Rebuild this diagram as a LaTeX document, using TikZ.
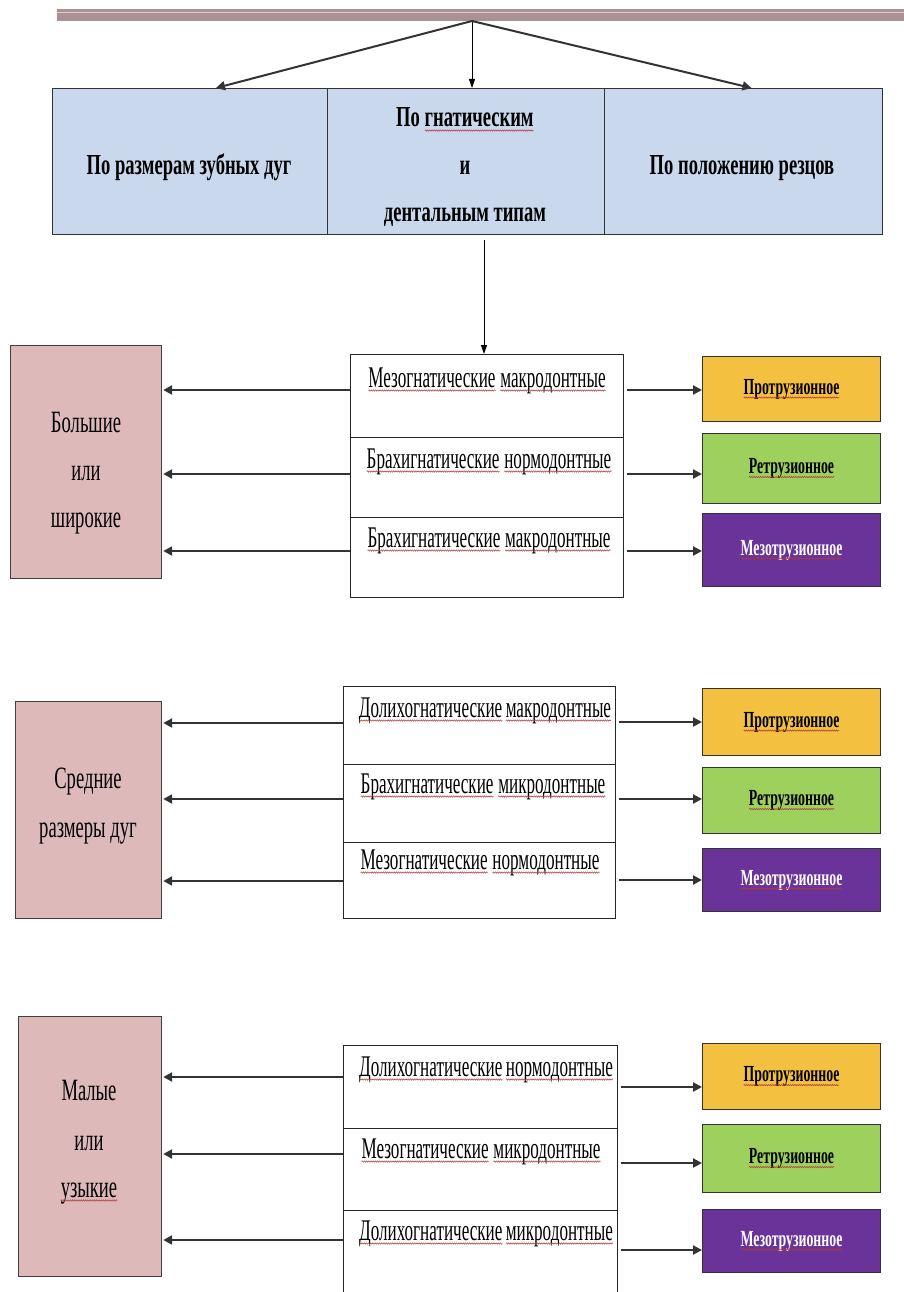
\documentclass[tikz,border=0pt]{standalone}
\usepackage{fontspec}
\setmainfont{Liberation Serif}
\newfontfamily\cnd[FakeStretch=0.6]{Liberation Serif}
\newfontfamily\cndM[FakeStretch=0.57]{Liberation Serif}
\newfontfamily\cndT[FakeStretch=0.64]{Liberation Serif}
\usetikzlibrary{arrows.meta,decorations.pathmorphing,calc}

\definecolor{hdr}{HTML}{A99294}
\definecolor{hdrl}{HTML}{D9CBCC}
\definecolor{tblue}{HTML}{C9D8EC}
\definecolor{pinkb}{HTML}{DDB9B9}
\definecolor{orangeb}{HTML}{F3C13F}
\definecolor{greenb}{HTML}{9ED05E}
\definecolor{purpleb}{HTML}{6A3399}
\definecolor{squig}{HTML}{B03A3A}

\newcommand\wv[1]{\tikz[baseline=(w.base)]{\node[inner sep=0pt,outer sep=0pt,minimum width=0pt,minimum height=0pt,draw=none,fill=none,anchor=base](w) at (0,0){#1};\draw[squig,line width=0.5pt,decorate,decoration={snake,amplitude=0.7pt,segment length=2.2pt}]([yshift=-3.5pt]w.base west)--([yshift=-3.5pt]w.base east);}}

\begin{document}
\begin{tikzpicture}[x=1pt,y=-1pt,
  tcell/.style={draw=black!80,line width=1pt,fill=tblue,inner sep=0pt,anchor=north west,minimum height=146pt},
  pbox/.style={draw=black!75,line width=1.2pt,fill=pinkb,inner sep=0pt,anchor=north west},
  mrow/.style={draw=black!85,line width=1pt,fill=white,inner sep=0pt,anchor=north west},
  cbox/.style={draw=black!80,line width=1pt,inner sep=0pt,anchor=north west,minimum width=178pt,font=\cnd\bfseries\fontsize{23}{27}\selectfont},
  ptxt/.style={anchor=base,inner sep=0pt,font=\cnd\fontsize{31}{36}\selectfont},
  mtxt/.style={anchor=base,inner sep=0pt,font=\cndM\fontsize{30}{36}\selectfont},
  ttxt/.style={anchor=base,inner sep=0pt,font=\cndT\bfseries\fontsize{29}{34}\selectfont},
  arr/.style={draw=black!80,line width=2.2pt,-{Triangle[length=9pt,width=9pt]}},
  arrthin/.style={draw=black,line width=0.9pt,-{Triangle[length=9pt,width=6pt]}}]

\clip (0,0) rectangle (904,1292);
\fill[white] (0,0) rectangle (904,1292);

% header bar
\node[anchor=north west,fill=hdr,minimum width=847pt,minimum height=12pt,inner sep=0pt] (bar) at (57,9) {};
\draw[hdrl,line width=1.5pt] (bar.north west)++(0,3.5) -- ++(847,0);
\coordinate (src) at (472,21);

% top table
\node[tcell,minimum width=275pt] (t1) at (52,88) {};
\node[tcell,minimum width=277pt] (t2) at (327,88) {};
\node[tcell,minimum width=278pt] (t3) at (604,88) {};
\node[ttxt] (t1a) at (189,175) {По размерам зубных дуг};
\node[ttxt] (t2a) at (465,127) {По \wv{гнатическим}};
\node[ttxt] (t2b) at (465,175) {и};
\node[ttxt] (t2c) at (465,222) {дентальным типам};
\node[ttxt] (t3a) at (742,175) {По положению резцов};

\draw[arr,line width=2pt] (src) -- ($(t1.north)+(26,0)$);
\draw[arrthin] (src) -- (src |- t2.north);
\draw[arr,line width=2pt] (src) -- ($(t3.north)+(8,0)$);
\coordinate (v0) at (484,240);
\draw[arrthin] (v0) -- (v0 |- 0,354);

% ---------- group 1
\node[pbox,minimum width=151pt,minimum height=233pt] (p1) at (10,345) {};
\node[ptxt] (p1a) at (86,432) {Большие};
\node[ptxt] (p1b) at (86,480) {или};
\node[ptxt] (p1c) at (86,527) {широкие};

\node[mrow,minimum width=273pt,minimum height=83pt] (m11) at (350,354) {};
\node[mrow,minimum width=273pt,minimum height=80pt] (m12) at (350,437) {};
\node[mrow,minimum width=273pt,minimum height=80pt] (m13) at (350,517) {};
\node[mtxt] (m11t) at (487,387) {\wv{Мезогнатические} \wv{макродонтные}};
\node[mtxt] (m12t) at (489,468) {\wv{Брахигнатические} \wv{нормодонтные}};
\node[mtxt] (m13t) at (489,547) {\wv{Брахигнатические} \wv{макродонтные}};

\node[cbox,fill=orangeb,minimum height=65pt] (c11) at (702,356) {\wv{Протрузионное}};
\node[cbox,fill=greenb,minimum height=70pt] (c12) at (702,433) {\wv{Ретрузионное}};
\node[cbox,fill=purpleb,text=white,minimum height=73pt] (c13) at (702,513) {\wv{Мезотрузионное}};

\coordinate (y11) at (0,390); \coordinate (y12) at (0,474); \coordinate (y13) at (0,551);
\foreach \r/\y in {m11/y11,m12/y12,m13/y13}{
  \draw[arr] (\r.west |- \y) -- ([xshift=1pt]p1.east |- \y);}
\draw[arr] ([xshift=3pt]m11.east |- y11) -- (c11.west |- y11);
\draw[arr] ([xshift=3pt]m12.east |- y12) -- (c12.west |- y12);
\draw[arr] ([xshift=3pt]m13.east |- y13) -- (c13.west |- y13);

% ---------- group 2
\node[pbox,minimum width=146pt,minimum height=217pt] (p2) at (15,701) {};
\node[ptxt] (p2a) at (88,788) {Средние};
\node[ptxt] (p2b) at (88,837) {размеры дуг};

\node[mrow,minimum width=272pt,minimum height=78pt] (m21) at (343,686) {};
\node[mrow,minimum width=272pt,minimum height=78pt] (m22) at (343,764) {};
\node[mrow,minimum width=272pt,minimum height=76pt] (m23) at (343,842) {};
\node[mtxt] (m21t) at (485,717) {\wv{Долихогнатические}\hspace{3pt}\wv{макродонтные}};
\node[mtxt] (m22t) at (483,793) {\wv{Брахигнатические} \wv{микродонтные}};
\node[mtxt] (m23t) at (480,869) {\wv{Мезогнатические} \wv{нормодонтные}};

\node[cbox,fill=orangeb,minimum height=67pt] (c21) at (702,688) {\wv{Протрузионное}};
\node[cbox,fill=greenb,minimum height=66pt] (c22) at (702,767) {\wv{Ретрузионное}};
\node[cbox,fill=purpleb,text=white,minimum height=63pt] (c23) at (702,848) {\wv{Мезотрузионное}};

\coordinate (l21) at (0,723); \coordinate (l22) at (0,799); \coordinate (l23) at (0,881);
\coordinate (r21) at (0,722); \coordinate (r22) at (0,799); \coordinate (r23) at (0,880);
\draw[arr] (m21.west |- l21) -- ([xshift=1pt]p2.east |- l21);
\draw[arr] (m22.west |- l22) -- ([xshift=1pt]p2.east |- l22);
\draw[arr] (m23.west |- l23) -- ([xshift=1pt]p2.east |- l23);
\draw[arr] ([xshift=3pt]m21.east |- r21) -- (c21.west |- r21);
\draw[arr] ([xshift=3pt]m22.east |- r22) -- (c22.west |- r22);
\draw[arr] ([xshift=3pt]m23.east |- r23) -- (c23.west |- r23);

% ---------- group 3
\node[pbox,minimum width=143pt,minimum height=260pt] (p3) at (18,1016) {};
\node[ptxt] (p3a) at (89,1100) {Малые};
\node[ptxt] (p3b) at (89,1150) {или};
\node[ptxt] (p3c) at (89,1197) {\wv{узыкие}};

\node[mrow,minimum width=274pt,minimum height=83pt] (m31) at (343,1045) {};
\node[mrow,minimum width=274pt,minimum height=82pt] (m32) at (343,1128) {};
\node[mrow,minimum width=274pt,minimum height=110pt] (m33) at (343,1210) {};
\node[mtxt] (m31t) at (486,1076) {\wv{Долихогнатические}\hspace{3pt}\wv{нормодонтные}};
\node[mtxt] (m32t) at (481,1158) {\wv{Мезогнатические} \wv{микродонтные}};
\node[mtxt] (m33t) at (486,1240) {\wv{Долихогнатические}\hspace{3pt}\wv{микродонтные}};

\node[cbox,fill=orangeb,minimum height=66pt] (c31) at (702,1043) {\wv{Протрузионное}};
\node[cbox,fill=greenb,minimum height=68pt] (c32) at (702,1124) {\wv{Ретрузионное}};
\node[cbox,fill=purpleb,text=white,minimum height=63pt] (c33) at (702,1209) {\wv{Мезотрузионное}};

\coordinate (l31) at (0,1077); \coordinate (l32) at (0,1154); \coordinate (l33) at (0,1240);
\coordinate (r31) at (0,1087); \coordinate (r32) at (0,1163); \coordinate (r33) at (0,1250);
\draw[arr] (m31.west |- l31) -- ([xshift=1pt]p3.east |- l31);
\draw[arr] (m32.west |- l32) -- ([xshift=1pt]p3.east |- l32);
\draw[arr] (m33.west |- l33) -- ([xshift=1pt]p3.east |- l33);
\draw[arr] ([xshift=3pt]m31.east |- r31) -- (c31.west |- r31);
\draw[arr] ([xshift=3pt]m32.east |- r32) -- (c32.west |- r32);
\draw[arr] ([xshift=3pt]m33.east |- r33) -- (c33.west |- r33);

\end{tikzpicture}
\end{document}
